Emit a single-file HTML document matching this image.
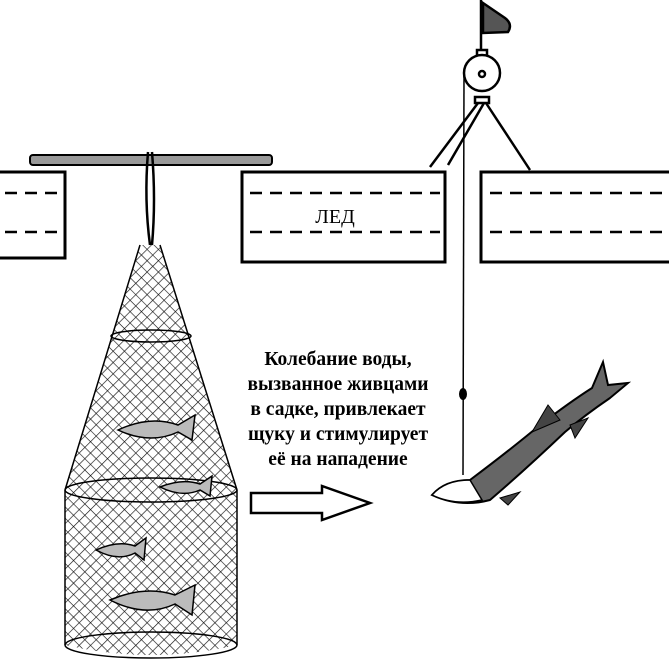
<!DOCTYPE html>
<html><head><meta charset="utf-8"><style>
html,body{margin:0;padding:0;background:#fff;width:669px;height:665px;overflow:hidden}
svg{display:block}
</style></head><body>
<svg width="669" height="665" viewBox="0 0 669 665" xmlns="http://www.w3.org/2000/svg">
<defs>
<pattern id="mesh" width="8" height="8" patternUnits="userSpaceOnUse" patternTransform="rotate(45)">
<path d="M0 0H8M0 0V8" stroke="#111" stroke-width="1.3" fill="none"/>
</pattern>
<clipPath id="netclip"><path d="M140 245 L160 245 L237 490 L237 645 Q151 665 65 645 L65 490 Z"/></clipPath>
</defs>
<g fill="none" stroke="#000" stroke-width="3">
<path d="M0 172 H65 V258 H0"/>
<rect x="242" y="172" width="203" height="90"/>
<path d="M669 172 H481 V262 H669"/>
</g>
<g stroke="#000" stroke-width="2.5" stroke-dasharray="12 8">
<line x1="5" y1="193" x2="60" y2="193"/><line x1="5" y1="232" x2="60" y2="232"/>
<line x1="250" y1="193" x2="440" y2="193"/><line x1="250" y1="232" x2="440" y2="232"/>
<line x1="490" y1="193" x2="669" y2="193"/><line x1="490" y1="232" x2="669" y2="232"/>
</g>
<text x="335" y="223" font-family="Liberation Serif, serif" font-size="20" text-anchor="middle">ЛЕД</text>
<rect x="30" y="155" width="242" height="10" rx="3" fill="#999" stroke="#000" stroke-width="2"/>
<path d="M148 152 Q144 200 150 245 M152 152 Q156 200 152 245" stroke="#000" stroke-width="2.5" fill="none"/>
<rect x="60" y="240" width="185" height="425" fill="url(#mesh)" clip-path="url(#netclip)"/>
<g fill="none" stroke="#000" stroke-width="1.5">
<path d="M140 245 L65 490 M160 245 L237 490"/>
<path d="M65 490 V645 M237 490 V645"/>
<ellipse cx="151" cy="490" rx="86" ry="12"/>
<ellipse cx="151" cy="645" rx="86" ry="13"/>
<ellipse cx="151" cy="336" rx="40" ry="6"/>
</g>
<g fill="#bbb" stroke="#000" stroke-width="1.5">
<path d="M118 430 Q150 415 178 425 L195 415 L192 440 L178 432 Q150 445 118 430Z"/>
<path d="M160 487 Q182 478 200 484 L212 476 L210 496 L200 490 Q182 498 160 487Z"/>
<path d="M96 550 Q118 540 135 546 L146 538 L144 560 L135 553 Q118 562 96 550Z"/>
<path d="M110 600 Q145 585 175 595 L195 585 L192 615 L175 604 Q145 618 110 600Z"/>
</g>
<g font-family="Liberation Serif, serif" font-size="19.5" font-weight="bold" text-anchor="middle">
<text x="338" y="365">Колебание воды,</text>
<text x="338" y="390">вызванное живцами</text>
<text x="338" y="415">в садке, привлекает</text>
<text x="338" y="440">щуку и стимулирует</text>
<text x="338" y="465">её на нападение</text>
</g>
<path d="M251 493 H322 V486 L370 503 L322 520 V513 H251 Z" fill="#fff" stroke="#000" stroke-width="2.5"/>
<g stroke="#000" stroke-width="2.5" fill="none">
<line x1="481" y1="0" x2="481" y2="52"/>
<path d="M483 3 L505 18 Q513 24 508 32 L483 33 Z" fill="#555"/>
<rect x="477" y="50" width="10" height="6" fill="#fff"/>
<circle cx="482" cy="73" r="18" fill="#fff"/>
<circle cx="482" cy="74" r="3"/>
<rect x="475" y="97" width="14" height="6" fill="#fff"/>
<path d="M478 103 L430 167 M484 103 L448 165 M486 103 L530 170"/>
</g>
<line x1="464" y1="75" x2="463" y2="475" stroke="#000" stroke-width="1.5"/>
<ellipse cx="463" cy="394" rx="4" ry="6" fill="#000"/>
<path d="M432 495 Q445 480 470 480 Q510 450 540 425 Q570 402 592 388 L603 362 L608 385 L628 383 L610 398 Q585 415 565 432 Q525 470 490 500 Q460 508 432 495Z" fill="#666" stroke="#000" stroke-width="2"/>
<path d="M432 495 Q445 480 470 480 L482 500 Q455 506 432 495Z" fill="#fff" stroke="#000" stroke-width="1.5"/>
<path d="M532 432 L548 405 L560 420Z M570 425 L588 418 L575 438Z M500 498 L520 492 L508 505Z" fill="#444" stroke="#000"/>
</svg>
</body></html>
